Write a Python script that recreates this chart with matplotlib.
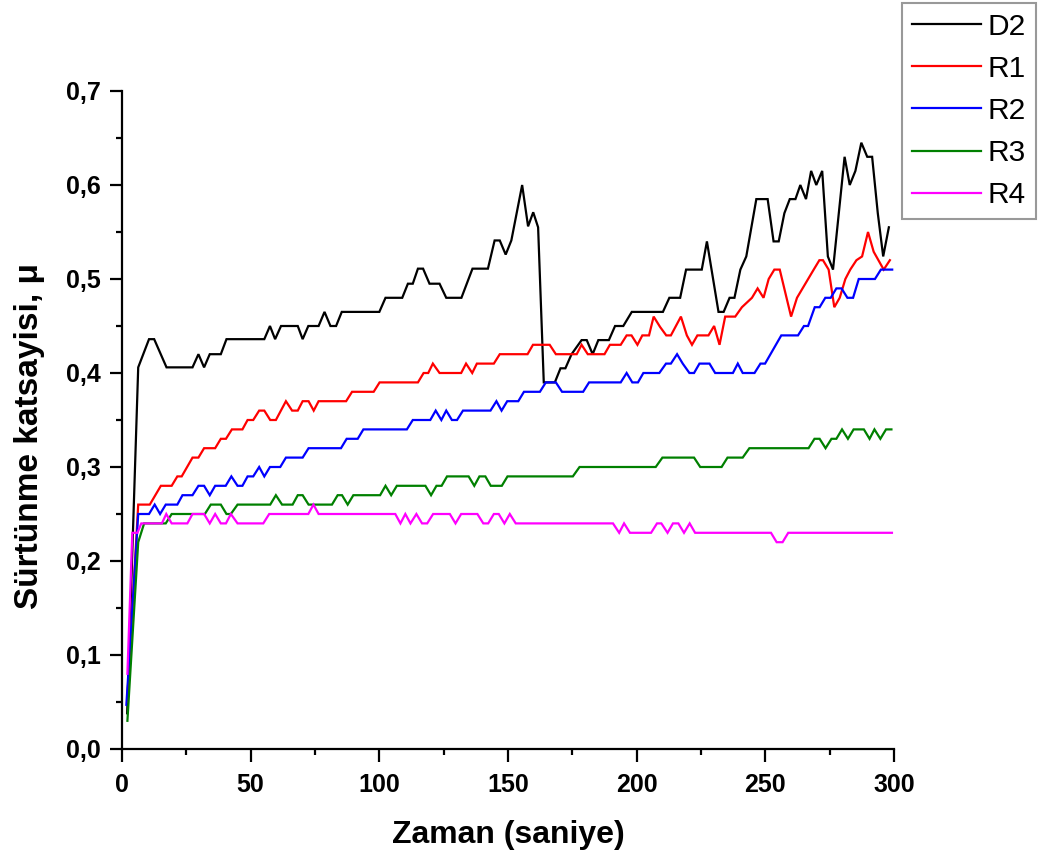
import matplotlib
matplotlib.use("Agg")
import matplotlib.pyplot as plt
from matplotlib.ticker import MultipleLocator, FuncFormatter

plt.rcParams['font.family'] = ['Liberation Sans', 'DejaVu Sans']

# ---- data (breakpoints) ----
d2_t = [2, 6.3, 10.5, 12.5, 17.3, 27.4, 29.7, 31.9, 34.1, 38.4, 40.6, 55.3, 57.5, 59.5, 61.8,
        68.3, 70.2, 72.4, 76.4, 78.7, 81, 83.2, 85.4, 100, 102.4, 108.9, 111.1, 113, 115, 117,
        119.5, 123.4, 126, 131.9, 136.2, 142.2, 144.8, 146.8, 149.1, 151.3, 155.5, 157.8, 159.8,
        161.7, 163.9, 168.2, 170.4, 172.3, 174.7, 178.6, 180.6, 182.9, 185.1, 189.2, 191.6, 194.8,
        198.1, 210.2, 212.7, 216.9, 219.2, 225.3, 227.3, 231.8, 233.8, 236.1, 238, 240.3, 242.6,
        246.5, 250.9, 253.2, 255.2, 257.4, 259.5, 261.7, 263.6, 265.8, 267.8, 269.8, 272.1, 274.3,
        276.3, 280.8, 282.8, 285, 287.3, 289.6, 291.5, 293.7, 295.8, 298]
d2_v = [0.038, 0.406, 0.436, 0.436, 0.406, 0.406, 0.42, 0.406, 0.42, 0.42, 0.436, 0.436, 0.45, 0.436, 0.45,
        0.45, 0.436, 0.45, 0.45, 0.465, 0.45, 0.45, 0.465, 0.465, 0.48, 0.48, 0.495, 0.495, 0.511, 0.511,
        0.495, 0.495, 0.48, 0.48, 0.511, 0.511, 0.541, 0.541, 0.526, 0.541, 0.600, 0.556, 0.571,
        0.555, 0.39, 0.39, 0.405, 0.405, 0.42, 0.435, 0.435, 0.42, 0.435, 0.435, 0.45, 0.45,
        0.465, 0.465, 0.48, 0.48, 0.51, 0.51, 0.54, 0.465, 0.465, 0.48, 0.48, 0.51, 0.524,
        0.585, 0.585, 0.54, 0.54, 0.57, 0.585, 0.585, 0.6, 0.585, 0.615, 0.6, 0.615, 0.524,
        0.51, 0.63, 0.6, 0.615, 0.645, 0.63, 0.63, 0.57, 0.524, 0.555]

r1_t = [2, 6.3, 10.8, 15.1, 19.3, 21.5, 23.2, 27.4, 29.7, 31.9, 36.2, 38.4, 40.4, 42.7, 46.8, 48.8,
        51, 53.3, 55.3, 57.6, 59.8, 63.7, 66.1, 68.3, 70.2, 72.5, 74.5, 76.4, 87.1, 89.4, 97.8,
        100.1, 115, 117.2, 119, 120.8, 123.4, 131.8, 133.7, 136.1, 137.9, 144.5, 146.8, 157.6,
        159.7, 166.2, 168.6, 176.7, 178.6, 181, 187.5, 189.6, 193.8, 196.1, 198, 200.3, 202.2,
        204.8, 206.6, 209.1, 211.5, 213.3, 217.2, 219.5, 221.5, 223.6, 227.9, 230.1, 232.2,
        234.4, 238.3, 240.9, 244.8, 247, 249.3, 251.3, 253.5, 255.6, 260, 262.3, 268.8, 271,
        272.4, 274.6, 276.8, 278.9, 281.1, 283, 285.4, 287.6, 289.9, 292.1, 296, 298.4]
r1_v = [0.05, 0.26, 0.26, 0.28, 0.28, 0.29, 0.29, 0.31, 0.31, 0.32, 0.32, 0.33, 0.33, 0.34, 0.34, 0.35,
        0.35, 0.36, 0.36, 0.35, 0.35, 0.37, 0.36, 0.36, 0.37, 0.37, 0.36, 0.37, 0.37, 0.38, 0.38,
        0.39, 0.39, 0.40, 0.40, 0.41, 0.40, 0.40, 0.41, 0.40, 0.41, 0.41, 0.42, 0.42,
        0.43, 0.43, 0.42, 0.42, 0.43, 0.42, 0.42, 0.43, 0.43, 0.44, 0.44, 0.43, 0.44,
        0.44, 0.46, 0.449, 0.44, 0.44, 0.46, 0.44, 0.43, 0.44, 0.44, 0.45, 0.43,
        0.46, 0.46, 0.47, 0.48, 0.49, 0.48, 0.50, 0.51, 0.51, 0.46, 0.48, 0.51, 0.52,
        0.52, 0.51, 0.47, 0.48, 0.50, 0.51, 0.52, 0.524, 0.55, 0.529, 0.51, 0.52]

r2_t = [1.7, 6.3, 10.5, 12.7, 14.8, 17, 21.5, 23.5, 27.4, 29.7, 31.9, 34.1, 36.2, 40.3, 42.5, 44.9,
        46.8, 48.8, 51, 53.3, 55.3, 57.5, 61.5, 63.7, 70.2, 72.5, 85.1, 87.3, 91.6, 93.8, 110.7,
        113, 119.8, 121.9, 124.1, 126, 128.2, 130.2, 132.5, 143.2, 145.5, 147.5, 149.7, 154,
        156.2, 162.4, 164.7, 168.6, 171, 179.2, 181.5, 193.8, 196.1, 198.3, 200.5, 202.6, 208.8,
        211.4, 213.3, 215.7, 217.9, 220.5, 222.3, 224.4, 228.3, 230.5, 237.4, 239.3, 241.2,
        245.8, 248.1, 249.9, 256.2, 262.7, 265, 266.6, 269.2, 271.1, 273.3, 275.4, 277.6,
        279.6, 281.9, 284.1, 286.3, 292.6, 294.9, 299.3]
r2_v = [0.047, 0.25, 0.25, 0.26, 0.25, 0.26, 0.26, 0.27, 0.27, 0.28, 0.28, 0.27, 0.28, 0.28, 0.29, 0.28,
        0.28, 0.29, 0.29, 0.30, 0.29, 0.30, 0.30, 0.31, 0.31, 0.32, 0.32, 0.33, 0.33, 0.34, 0.34,
        0.35, 0.35, 0.36, 0.35, 0.36, 0.35, 0.35, 0.36, 0.36, 0.37, 0.36, 0.37, 0.37,
        0.38, 0.38, 0.39, 0.39, 0.38, 0.38, 0.39, 0.39, 0.40, 0.39, 0.39, 0.40, 0.40,
        0.41, 0.41, 0.42, 0.41, 0.40, 0.40, 0.41, 0.41, 0.40, 0.40, 0.41, 0.40,
        0.40, 0.41, 0.41, 0.44, 0.44, 0.45, 0.45, 0.47, 0.47, 0.48, 0.48, 0.49,
        0.49, 0.48, 0.48, 0.50, 0.50, 0.51, 0.51]

r3_t = [2.1, 6.3, 8.6, 17, 19.3, 32.2, 34.5, 38.4, 40.6, 42.3, 44.9, 57.6, 59.8, 62.2, 66.3, 68.3,
        70.2, 72.5, 81.6, 83.8, 85.5, 87.7, 89.9, 100.3, 102.4, 104.6, 106.8, 117.9, 120.1, 122.2,
        124.2, 126.3, 134.7, 136.9, 138.9, 141.2, 143.3, 147.6, 149.8, 175.2, 177.8, 207.4, 210,
        222.3, 224.7, 233, 235.3, 241.2, 243.8, 266.8, 269.1, 271.1, 273.4, 275.7, 277.6, 279.8,
        282.1, 284.3, 288.3, 290.5, 292.4, 294.7, 296.9, 299]
r3_v = [0.03, 0.22, 0.24, 0.24, 0.25, 0.25, 0.26, 0.26, 0.25, 0.25, 0.26, 0.26, 0.27, 0.26, 0.26, 0.27,
        0.27, 0.26, 0.26, 0.27, 0.27, 0.26, 0.27, 0.27, 0.28, 0.27, 0.28, 0.28, 0.27, 0.28,
        0.28, 0.29, 0.29, 0.28, 0.29, 0.29, 0.28, 0.28, 0.29, 0.29, 0.30, 0.30, 0.31,
        0.31, 0.30, 0.30, 0.31, 0.31, 0.32, 0.32, 0.33, 0.33, 0.32, 0.33, 0.33, 0.34,
        0.33, 0.34, 0.34, 0.33, 0.34, 0.33, 0.34, 0.34]

r4_t = [2.1, 4, 6, 7.5, 15.5, 17.2, 19.3, 25.4, 27.4, 31.9, 34.1, 36.2, 38.4, 40.4, 42.3, 44.9, 54.9,
        57.2, 72.4, 74.4, 76.4, 106.2, 108.2, 110.1, 112.1, 114.4, 116.6, 118.6, 120.9, 127.4,
        129.6, 131.8, 138.1, 140.4, 142.3, 144.5, 146.4, 148.6, 150.7, 153, 190.8, 193.2, 195.1,
        197.4, 205.6, 207.9, 209.6, 212, 214.1, 216.2, 218.4, 220.6, 222.7, 252.2, 254.4, 256.7,
        258.9, 299.2]
r4_v = [0.08, 0.23, 0.23, 0.24, 0.24, 0.25, 0.24, 0.24, 0.25, 0.25, 0.24, 0.25, 0.24, 0.24, 0.25, 0.24, 0.24,
        0.25, 0.25, 0.26, 0.25, 0.25, 0.24, 0.25, 0.24, 0.25, 0.24, 0.24, 0.25, 0.25,
        0.24, 0.25, 0.25, 0.24, 0.24, 0.25, 0.25, 0.24, 0.25, 0.24, 0.24, 0.23, 0.24,
        0.23, 0.23, 0.24, 0.24, 0.23, 0.24, 0.24, 0.23, 0.24, 0.23, 0.23, 0.22, 0.22,
        0.23, 0.23]

labels = ['D2', 'R1', 'R2', 'R3', 'R4']
colors = ['black', 'red', 'blue', 'green', 'magenta']

fig = plt.figure(figsize=(10.46, 8.59), dpi=100)
ax = fig.add_axes([122 / 1046, 1 - 749 / 859, (894 - 122) / 1046, (749 - 91) / 859])

series = [(d2_t, d2_v), (r1_t, r1_v), (r2_t, r2_v), (r3_t, r3_v), (r4_t, r4_v)]
handles = []
for (t, v), lab, c in zip(series, labels, colors):
    h, = ax.plot(t, v, color=c, lw=1.6, label=lab, solid_joinstyle='miter')
    handles.append(h)

ax.set_xlim(0, 300)
ax.set_ylim(0, 0.7)
for s in ['top', 'right']:
    ax.spines[s].set_visible(False)
for s in ['left', 'bottom']:
    ax.spines[s].set_linewidth(1.6)

ax.xaxis.set_major_locator(MultipleLocator(50))
ax.xaxis.set_minor_locator(MultipleLocator(25))
ax.yaxis.set_major_locator(MultipleLocator(0.1))
ax.yaxis.set_minor_locator(MultipleLocator(0.05))
ax.yaxis.set_major_formatter(FuncFormatter(lambda y, p: f"{y:.1f}".replace('.', ',')))
ax.tick_params(which='major', direction='out', length=9, width=1.6, labelsize=18, pad=6)
ax.tick_params(axis='x', which='major', pad=8)
ax.tick_params(which='minor', direction='out', length=4.5, width=1.6)
for lbl in ax.get_xticklabels() + ax.get_yticklabels():
    lbl.set_fontweight('bold')

ax.set_xlabel('Zaman (saniye)', fontsize=23, fontweight='bold', labelpad=17)
ax.set_ylabel('Sürtünme katsayisi, μ', fontsize=24, fontweight='bold')
ax.yaxis.set_label_coords(-0.10, 0.475)

leg = fig.legend(handles=handles, labels=labels, loc='upper left',
                 bbox_to_anchor=(902 / 1046, 1 - 3 / 859), borderaxespad=0,
                 fontsize=21.5, frameon=True, fancybox=False, handlelength=2.3,
                 handletextpad=0.25, labelspacing=0.47, borderpad=0.33)
leg.get_frame().set_edgecolor('#808080')
leg.get_frame().set_linewidth(1.5)

fig.savefig('out.png', dpi=100)
